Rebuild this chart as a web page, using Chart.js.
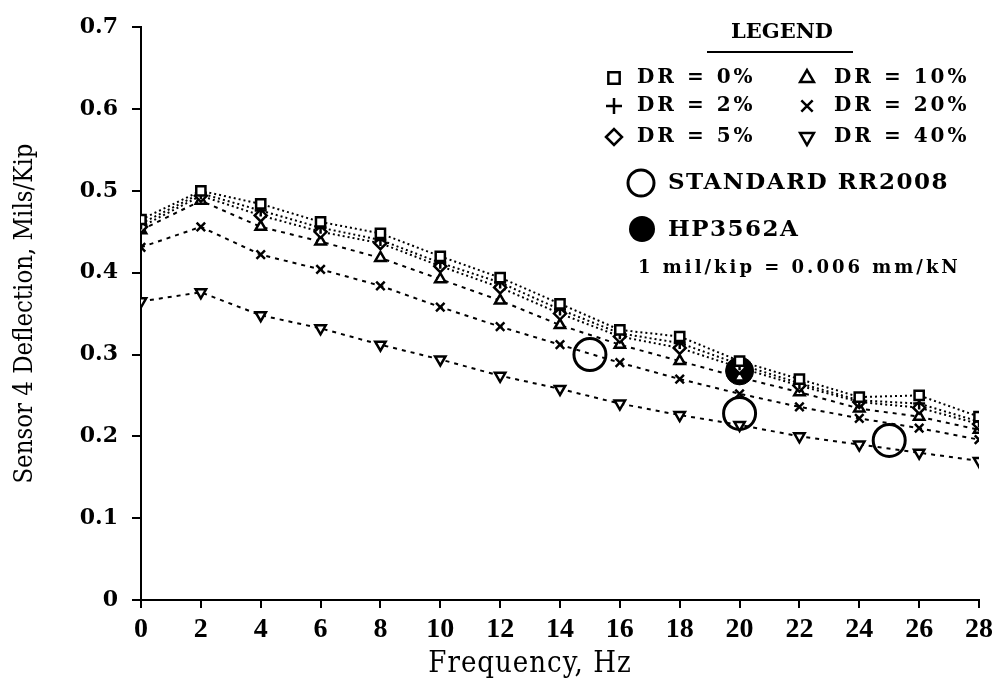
<!DOCTYPE html>
<html>
<head>
<meta charset="utf-8">
<script src="https://cdn.jsdelivr.net/npm/chart.js@4/dist/chart.umd.min.js"></script>
<style>
  html, body { margin: 0; padding: 0; background: #fff; }
  #wrap { width: 998px; height: 686px; }
</style>
</head>
<body>
<div id="wrap"><canvas id="myChart" width="998" height="686"></canvas></div>
<script>
// frequency sweep, Hz
const freqHz = [0, 2, 4, 6, 8, 10, 12, 14, 16, 18, 20, 22, 24, 26, 28];

// sensor 4 deflection (mils/kip) for each damping ratio
const dr0  = [0.465, 0.500, 0.484, 0.462, 0.448, 0.420, 0.394, 0.362, 0.330, 0.322, 0.292, 0.270, 0.248, 0.250, 0.224];
const dr2  = [0.460, 0.497, 0.476, 0.455, 0.440, 0.412, 0.388, 0.355, 0.326, 0.314, 0.288, 0.265, 0.244, 0.240, 0.218];
const dr5  = [0.456, 0.494, 0.470, 0.450, 0.436, 0.408, 0.382, 0.350, 0.322, 0.308, 0.284, 0.262, 0.242, 0.235, 0.215];
const dr10 = [0.452, 0.488, 0.456, 0.438, 0.418, 0.392, 0.366, 0.336, 0.312, 0.292, 0.272, 0.254, 0.234, 0.224, 0.208];
const dr20 = [0.431, 0.456, 0.422, 0.404, 0.384, 0.358, 0.334, 0.312, 0.290, 0.270, 0.252, 0.236, 0.222, 0.210, 0.196];
const dr40 = [0.365, 0.376, 0.348, 0.332, 0.312, 0.294, 0.274, 0.258, 0.240, 0.226, 0.214, 0.200, 0.190, 0.180, 0.170];

// measured points
const rrFreq = [15, 20, 25];
const rrDefl = [0.300, 0.228, 0.195];
const hpFreq = [20];
const hpDefl = [0.280];

const drLabels = ['DR = 0%', 'DR = 2%', 'DR = 5%', 'DR = 10%', 'DR = 20%', 'DR = 40%'];
const rrLabel = 'STANDARD RR2008';
const hpLabel = 'HP3562A';
const unitNote = '1 mil/kip = 0.006 mm/kN';
const xTitle = 'Frequency, Hz';
const yTitle = 'Sensor 4 Deflection, Mils/Kip';

const pairs = (xs, ys) => xs.map((x, i) => ({ x: x, y: ys[i] }));

const SERIF = '"DejaVu Serif", "Liberation Serif", serif';
const SERIF_COND = '"DejaVu Serif Condensed", "DejaVu Serif", serif';
const TIMES = '"Liberation Serif", "DejaVu Serif", serif';

// marker style per damping ratio: [pointStyle, rotation, radius, dash]
const drStyles = [
    ['rect', 0, 6.5, [2, 3]],
    ['cross', 0, 6, [2, 3]],
    ['rectRot', 0, 6, [2, 3]],
    ['triangle', 0, 6, [4, 5]],
    ['crossRot', 0, 6, [4, 5]],
    ['triangle', 180, 6, [4, 5]]
];
const drSeries = [dr0, dr2, dr5, dr10, dr20, dr40];

const datasets = drSeries.map((vals, i) => ({
    label: drLabels[i],
    data: pairs(freqHz, vals),
    borderColor: '#000',
    borderWidth: 2,
    borderDash: drStyles[i][3],
    backgroundColor: '#fff',
    pointStyle: drStyles[i][0],
    rotation: drStyles[i][1],
    pointRadius: drStyles[i][2],
    pointBorderWidth: 2.5,
    pointBorderColor: '#000',
    pointBackgroundColor: '#fff',
    tension: 0,
    fill: false
}));

datasets.push({
    label: hpLabel,
    data: pairs(hpFreq, hpDefl),
    showLine: false,
    pointStyle: 'circle',
    pointRadius: 14,
    pointBorderWidth: 1,
    pointBorderColor: '#000',
    pointBackgroundColor: '#000'
});
datasets.push({
    label: rrLabel,
    data: pairs(rrFreq, rrDefl),
    showLine: false,
    pointStyle: 'circle',
    pointRadius: 16,
    pointBorderWidth: 3,
    pointBorderColor: '#000',
    pointBackgroundColor: 'rgba(0,0,0,0)'
});

// legend block and x-axis caption drawn straight onto the canvas
const drLegend = {
    id: 'drLegend',
    afterDraw(chart) {
        const ctx = chart.ctx;
        const draw = Chart.helpers.drawPoint;
        ctx.save();
        ctx.fillStyle = '#000';
        ctx.strokeStyle = '#000';
        ctx.textBaseline = 'middle';

        // caption sits a little left of the axis centre
        ctx.textAlign = 'center';
        ctx.letterSpacing = '1px';
        ctx.font = '500 29px ' + SERIF_COND;
        ctx.fillText(xTitle, 530, 664);

        ctx.letterSpacing = '0px';
        ctx.font = 'bold 21px ' + SERIF;
        ctx.fillText('LEGEND', 782, 33);
        ctx.lineWidth = 2;
        ctx.beginPath();
        ctx.moveTo(707, 52);
        ctx.lineTo(853, 52);
        ctx.stroke();

        ctx.textAlign = 'left';
        ctx.font = 'bold 20px ' + SERIF;
        ctx.letterSpacing = '3px';
        const rowsY = [78, 106, 137];
        drLabels.forEach((txt, i) => {
            const col = i < 3 ? 0 : 1;
            const row = i % 3;
            const mx = col ? 807 : 614;
            const tx = col ? 834 : 637;
            const st = drStyles[i];
            ctx.lineWidth = 2.5;
            ctx.fillStyle = '#fff';
            draw(ctx, { pointStyle: st[0], rotation: st[1], radius: 8, borderWidth: 2.5 }, mx, rowsY[row]);
            ctx.fillStyle = '#000';
            ctx.fillText(txt, tx, rowsY[row]);
        });

        ctx.letterSpacing = '1.5px';
        ctx.font = 'bold 23px ' + SERIF;
        ctx.lineWidth = 3;
        ctx.beginPath();
        ctx.arc(641, 183, 13, 0, Math.PI * 2);
        ctx.stroke();
        ctx.fillText(rrLabel, 668, 183);

        ctx.beginPath();
        ctx.arc(642, 229, 13, 0, Math.PI * 2);
        ctx.fill();
        ctx.fillText(hpLabel, 668, 230);

        ctx.letterSpacing = '3px';
        ctx.font = 'bold 18px ' + SERIF;
        ctx.fillText(unitNote, 638, 268);
        ctx.restore();
    }
};

const ctx = document.getElementById('myChart').getContext('2d');

new Chart(ctx, {
    type: 'line',
    data: { datasets: datasets },
    options: {
        responsive: false,
        animation: false,
        layout: { padding: { top: 19, right: 18, left: 0, bottom: 0 } },
        plugins: {
            legend: { display: false },
            tooltip: { enabled: false }
        },
        scales: {
            x: {
                type: 'linear',
                min: 0,
                max: 28,
                afterFit: (s) => { s.height = 86; },
                border: { display: true, color: '#000', width: 2 },
                grid: { drawOnChartArea: false, color: '#000', tickLength: 8, lineWidth: 2 },
                ticks: {
                    stepSize: 2,
                    padding: 5,
                    color: '#000',
                    font: { family: TIMES, size: 28, weight: 'bold' }
                },
                title: { display: false }
            },
            y: {
                min: 0,
                max: 0.7,
                afterFit: (s) => { s.width = 141; },
                border: { display: true, color: '#000', width: 2 },
                grid: { drawOnChartArea: false, color: '#000', tickLength: 9, lineWidth: 2 },
                ticks: {
                    stepSize: 0.1,
                    padding: 14,
                    color: '#000',
                    font: { family: SERIF, size: 22, weight: 'bold' },
                    callback: (v) => (v === 0 ? '0' : v.toFixed(1))
                },
                title: {
                    display: true,
                    text: yTitle,
                    color: '#000',
                    font: { family: SERIF_COND, size: 25.5, weight: '500' },
                    padding: { top: 10, bottom: 0 }
                }
            }
        }
    },
    plugins: [drLegend]
});
</script>
</body>
</html>
